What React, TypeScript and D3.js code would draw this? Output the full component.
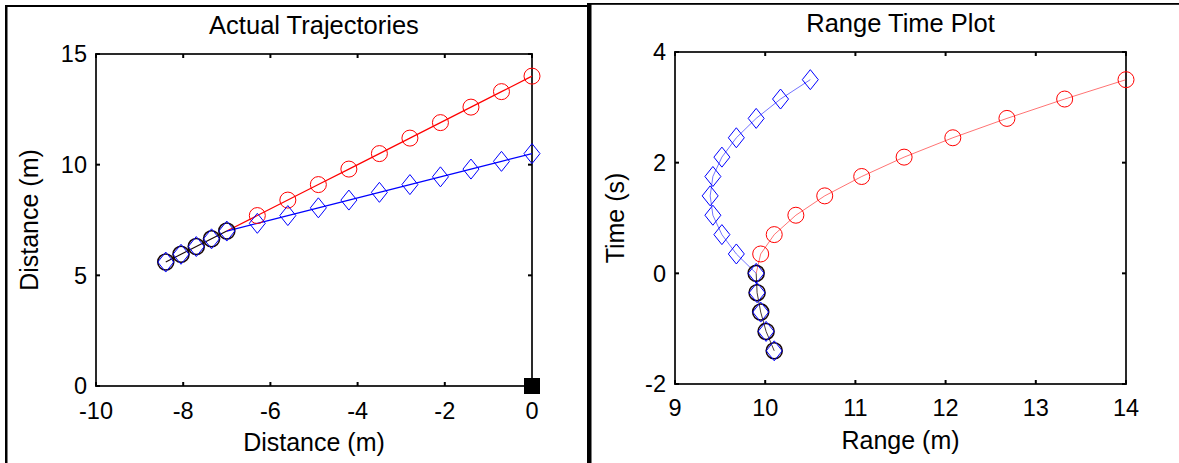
import React from "react";
import * as d3 from "d3";

// ---------- Data: left panel (Actual Trajectories) ----------
const redX = [-7.0, -6.3, -5.6, -4.9, -4.2, -3.5, -2.8, -2.1, -1.4, -0.7, 0];
const redY = [7.0, 7.7, 8.4, 9.1, 9.8, 10.5, 11.2, 11.9, 12.6, 13.3, 14.0];
const blueX = [-7.0, -6.3, -5.6, -4.9, -4.2, -3.5, -2.8, -2.1, -1.4, -0.7, 0];
const blueY = [7.0, 7.35, 7.7, 8.05, 8.4, 8.75, 9.1, 9.45, 9.8, 10.15, 10.5];
const blackX = [-8.4, -8.05, -7.7, -7.35, -7.0];
const blackY = [5.6, 5.95, 6.3, 6.65, 7.0];
const sensorX = [0];
const sensorY = [0];
const leftXTicks = [-10, -8, -6, -4, -2, 0];
const leftYTicks = [0, 5, 10, 15];

// ---------- Data: right panel (Range Time Plot) ----------
const futureTime = [0, 0.35, 0.7, 1.05, 1.4, 1.75, 2.1, 2.45, 2.8, 3.15, 3.5];
const redRange = [9.9, 9.95, 10.1, 10.34, 10.66, 11.07, 11.54, 12.08, 12.68, 13.32, 14.0];
const blueRange = [9.9, 9.68, 9.52, 9.42, 9.39, 9.42, 9.52, 9.68, 9.9, 10.17, 10.5];
const pastTime = [0, -0.35, -0.7, -1.05, -1.4];
const blackRange = [9.9, 9.91, 9.95, 10.01, 10.1];
const rightXTicks = [9, 10, 11, 12, 13, 14];
const rightYTicks = [-2, 0, 2, 4];

const FONT = "'Liberation Sans', Arial, sans-serif";
const RED = "#ff0000";
const BLUE = "#0000ff";
const DARK = "#1a0808";
const TICK_FS = 23.5;
const LABEL_FS = 25;
const TITLE_FS = 25.5;

type Scale = d3.ScaleLinear<number, number>;

function zip(xs: number[], ys: number[]): [number, number][] {
  return xs.map((x, i) => [x, ys[i]]);
}

function Circles({ pts, sx, sy, color, r = 8, w = 1 }: any) {
  return (
    <g>
      {pts.map((p: [number, number], i: number) => (
        <circle key={i} cx={sx(p[0])} cy={sy(p[1])} r={r} fill="none" stroke={color} strokeWidth={w} />
      ))}
    </g>
  );
}

function Diamonds({ pts, sx, sy, color, hw = 8, hh = 10, w = 1 }: any) {
  return (
    <g>
      {pts.map((p: [number, number], i: number) => {
        const cx = sx(p[0]);
        const cy = sy(p[1]);
        const d = `M${cx},${cy - hh}L${cx + hw},${cy}L${cx},${cy + hh}L${cx - hw},${cy}Z`;
        return <path key={i} d={d} fill="none" stroke={color} strokeWidth={w} />;
      })}
    </g>
  );
}

function Line({ pts, sx, sy, color, w = 1, opacity = 1 }: any) {
  const gen = d3
    .line<[number, number]>()
    .x((d) => sx(d[0]))
    .y((d) => sy(d[1]));
  return <path d={gen(pts) || ""} fill="none" stroke={color} strokeWidth={w} strokeOpacity={opacity} />;
}

function Frame({ sx, sy, xTicks, yTicks, title, xLabel, yLabel, titleY, yLabelX, xTickDy, xLabelDy }: any) {
  const [x0, x1] = sx.range();
  const [y0, y1] = sy.range(); // y0 bottom, y1 top
  const tl = 4;
  return (
    <g fontFamily={FONT} fill="#000">
      <rect x={x0} y={y1} width={x1 - x0} height={y0 - y1} fill="none" stroke="#2a2a2a" strokeWidth={2} />
      {xTicks.map((t: number) => (
        <g key={"x" + t}>
          <line x1={sx(t)} x2={sx(t)} y1={y0} y2={y0 - tl} stroke="#000" strokeWidth={2} />
          <line x1={sx(t)} x2={sx(t)} y1={y1} y2={y1 + tl} stroke="#000" strokeWidth={2} />
          <text x={sx(t)} y={y0 + xTickDy} textAnchor="middle" fontSize={TICK_FS}>
            {t}
          </text>
        </g>
      ))}
      {yTicks.map((t: number) => (
        <g key={"y" + t}>
          <line x1={x0} x2={x0 + tl} y1={sy(t)} y2={sy(t)} stroke="#000" strokeWidth={2} />
          <line x1={x1} x2={x1 - tl} y1={sy(t)} y2={sy(t)} stroke="#000" strokeWidth={2} />
          <text x={x0 - 9} y={sy(t) + 8.4} textAnchor="end" fontSize={TICK_FS}>
            {t}
          </text>
        </g>
      ))}
      <text x={(x0 + x1) / 2} y={titleY} textAnchor="middle" fontSize={TITLE_FS}>
        {title}
      </text>
      <text x={(x0 + x1) / 2} y={y0 + xLabelDy} textAnchor="middle" fontSize={LABEL_FS}>
        {xLabel}
      </text>
      <text
        transform={`translate(${yLabelX},${(y0 + y1) / 2}) rotate(-90)`}
        textAnchor="middle"
        fontSize={LABEL_FS}
      >
        {yLabel}
      </text>
    </g>
  );
}

export default function App() {
  // Left panel scales
  const lx: Scale = d3.scaleLinear().domain([-10, 0]).range([96, 532]);
  const ly: Scale = d3.scaleLinear().domain([0, 15]).range([386, 54]);
  // Right panel scales
  const rx: Scale = d3.scaleLinear().domain([9, 14]).range([675, 1126]);
  const ry: Scale = d3.scaleLinear().domain([-2, 4]).range([384, 52]);

  const redPts = zip(redX, redY);
  const bluePts = zip(blueX, blueY);
  const blackPts = zip(blackX, blackY);

  const rRedPts = zip(redRange, futureTime);
  const rBluePts = zip(blueRange, futureTime);
  const rBlackPts = zip(blackRange, pastTime);

  return (
    <svg
      width={1179}
      height={463}
      style={{ position: "absolute", left: 0, top: 0, display: "block", background: "#fff" }}
    >
      <rect x={0} y={0} width={1179} height={463} fill="#fff" />
      {/* panel borders */}
      <rect x={5} y={5} width={584} height={2} fill="#000" />
      <rect x={5} y={5} width={2.5} height={458} fill="#000" />
      <rect x={589} y={3} width={590} height={1.8} fill="#000" />
      <rect x={587} y={3} width={4.5} height={460} fill="#000" />

      {/* Left panel */}
      <Frame
        sx={lx}
        sy={ly}
        xTicks={leftXTicks}
        yTicks={leftYTicks}
        title="Actual Trajectories"
        xLabel="Distance (m)"
        yLabel="Distance (m)"
        titleY={34}
        yLabelX={38}
        xTickDy={32.5}
        xLabelDy={65}
      />
      <Line pts={redPts} sx={lx} sy={ly} color={RED} w={1.2} />
      <Line pts={bluePts} sx={lx} sy={ly} color={BLUE} w={1.2} />
      <Circles pts={redPts.slice(1)} sx={lx} sy={ly} color={RED} />
      <Diamonds pts={bluePts.slice(1)} sx={lx} sy={ly} color={BLUE} />
      <Line pts={blackPts} sx={lx} sy={ly} color={DARK} w={1.2} />
      <Circles pts={blackPts} sx={lx} sy={ly} color={DARK} w={1.6} />
      <Diamonds pts={blackPts} sx={lx} sy={ly} color={BLUE} />
      {zip(sensorX, sensorY).map((p, i) => (
        <rect key={i} x={lx(p[0]) - 8} y={ly(p[1]) - 8} width={16} height={16} fill="#000" />
      ))}

      {/* Right panel */}
      <Frame
        sx={rx}
        sy={ry}
        xTicks={rightXTicks}
        yTicks={rightYTicks}
        title="Range Time Plot"
        xLabel="Range (m)"
        yLabel="Time (s)"
        titleY={32}
        yLabelX={624}
        xTickDy={32}
        xLabelDy={65}
      />
      <Line pts={rRedPts} sx={rx} sy={ry} color={RED} w={1} opacity={0.55} />
      <Line pts={rBluePts} sx={rx} sy={ry} color={BLUE} w={1} opacity={0.55} />
      <Circles pts={rRedPts.slice(1)} sx={rx} sy={ry} color={RED} />
      <Diamonds pts={rBluePts.slice(1)} sx={rx} sy={ry} color={BLUE} />
      <Line pts={rBlackPts} sx={rx} sy={ry} color={DARK} w={1} opacity={0.8} />
      <Circles pts={rBlackPts} sx={rx} sy={ry} color={DARK} w={1.6} />
      <Diamonds pts={rBlackPts} sx={rx} sy={ry} color={BLUE} />
    </svg>
  );
}
